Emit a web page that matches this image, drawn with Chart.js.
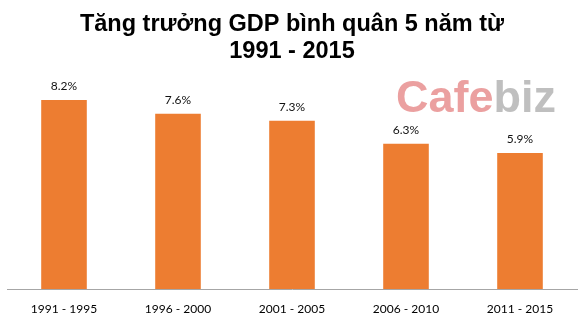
<!DOCTYPE html>
<html lang="vi">
<head>
  <meta charset="UTF-8" />
  <title>Tăng trưởng GDP bình quân 5 năm</title>
  <script src="https://cdn.jsdelivr.net/npm/chart.js"></script>
  <style>
    html, body { margin: 0; padding: 0; background: #fff; }
    canvas { display: block; }
  </style>
</head>
<body>
  <canvas id="gdpChart" width="586" height="329"></canvas>

  <script>
    const periods = ['1991 - 1995', '1996 - 2000', '2001 - 2005', '2006 - 2010', '2011 - 2015'];
    const growth = [8.2, 7.6, 7.3, 6.3, 5.9];
    const titleLines = ['Tăng trưởng GDP bình quân 5 năm từ', '1991 - 2015'];

    // nhãn % phía trên cột
    const valueLabels = {
      id: 'valueLabels',
      afterDatasetsDraw(chart) {
        const ctx = chart.ctx;
        const meta = chart.getDatasetMeta(0);
        ctx.save();
        ctx.font = '12px Lato, "Open Sans", sans-serif';
        ctx.fillStyle = '#111';
        ctx.textAlign = 'center';
        ctx.textBaseline = 'middle';
        meta.data.forEach((bar, i) => {
          ctx.fillText(growth[i].toFixed(1) + '%', bar.x, bar.y - 14);
        });
        ctx.restore();
      }
    };

    // logo chìm CafeBiz
    const watermark = {
      id: 'watermark',
      afterDraw(chart) {
        const ctx = chart.ctx;
        ctx.save();
        ctx.font = 'bold 45px "Liberation Sans", Arial, sans-serif';
        ctx.textBaseline = 'alphabetic';
        ctx.textAlign = 'left';
        ctx.fillStyle = 'rgba(226, 120, 120, 0.7)';
        ctx.fillText('Cafe', 396, 112);
        const w = ctx.measureText('Cafe').width;
        ctx.fillStyle = 'rgba(170, 170, 170, 0.75)';
        ctx.fillText('biz', 396 + w, 112);
        ctx.restore();
      }
    };

    const ctx = document.getElementById('gdpChart').getContext('2d');
    new Chart(ctx, {
      type: 'bar',
      data: {
        labels: periods,
        datasets: [{
          data: growth,
          backgroundColor: '#ED7D31',
          borderWidth: 0,
          barPercentage: 0.4,
          categoryPercentage: 1.0
        }]
      },
      options: {
        responsive: false,
        animation: false,
        layout: { padding: { left: 7, right: 9, top: 0, bottom: 0 } },
        plugins: {
          legend: { display: false },
          tooltip: { enabled: false },
          title: {
            display: true,
            text: titleLines,
            color: '#000',
            font: { family: '"Liberation Sans", Arial, sans-serif', size: 23.5, weight: 'bold', lineHeight: 1.15 },
            padding: { top: 11, bottom: 5 }
          }
        },
        scales: {
          x: {
            grid: { display: false, drawTicks: false },
            border: { display: true, color: '#a6a6a6', width: 1 },
            ticks: {
              color: '#000',
              padding: 13,
              font: { family: 'Lato, "Open Sans", sans-serif', size: 12 }
            },
            afterFit(scale) { scale.height = 40; }
          },
          y: {
            display: false,
            min: 0,
            max: 9.5
          }
        }
      },
      plugins: [valueLabels, watermark]
    });
  </script>
</body>
</html>
